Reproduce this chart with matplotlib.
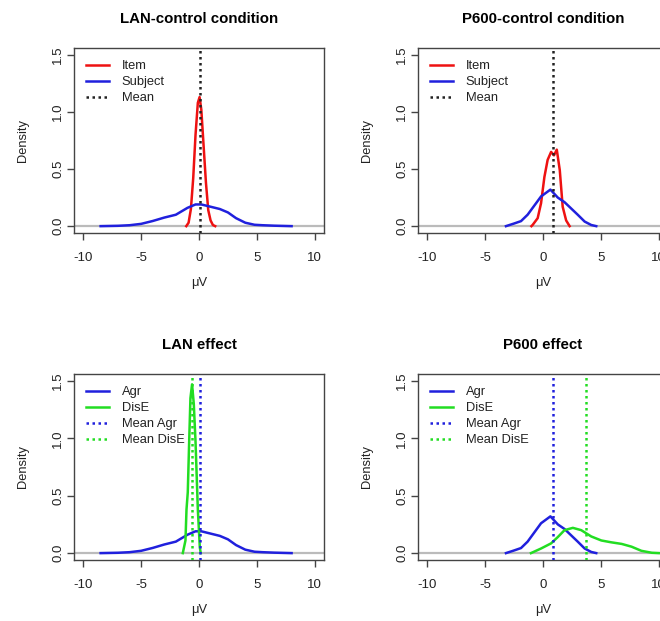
import matplotlib
matplotlib.use('Agg')
import matplotlib.pyplot as plt

plt.rcParams['font.family'] = ['Liberation Sans', 'DejaVu Sans']
plt.rcParams['axes.unicode_minus'] = False

RED = '#ee1111'
BLUE = '#2020dd'
GREEN = '#22dd22'
TEXT = '#222222'
SPINE = '#444444'
ZERO = '#bbbbbb'

# LAN-control condition
lan_item_x = [-1.1, -0.9, -0.7, -0.5, -0.3, -0.1, 0.05, 0.2, 0.4, 0.6, 0.8, 1.0, 1.2, 1.4]
lan_item_y = [0.0, 0.03, 0.15, 0.42, 0.8, 1.08, 1.13, 1.02, 0.7, 0.38, 0.14, 0.05, 0.01, 0.0]
lan_subj_x = [-8.5, -7, -6, -5, -4, -3, -2, -1, -0.3, 0.2, 1, 1.8, 2.5, 3.2, 4, 4.8, 5.5, 6.5, 8]
lan_subj_y = [0.0, 0.003, 0.008, 0.02, 0.045, 0.075, 0.1, 0.16, 0.19, 0.19, 0.17, 0.15,
              0.12, 0.07, 0.03, 0.012, 0.008, 0.004, 0.0]
lan_mean = 0.05

# P600-control condition
p6_item_x = [-1.0, -0.9, -0.46, -0.17, 0.12, 0.4, 0.7, 0.95, 1.19, 1.45, 1.7, 2.0, 2.3]
p6_item_y = [0.0, 0.01, 0.07, 0.2, 0.43, 0.58, 0.65, 0.62, 0.67, 0.49, 0.17, 0.05, 0.0]
p6_subj_x = [-3.2, -2.5, -1.9, -1.33, -0.75, -0.17, 0.64, 1.28, 1.86, 2.43, 3.0, 3.6, 4.17, 4.6]
p6_subj_y = [0.0, 0.023, 0.044, 0.1, 0.18, 0.26, 0.32, 0.25, 0.21, 0.155, 0.1, 0.04, 0.01, 0.0]
p6_mean = 0.87

# LAN effect
lan_agr_x = lan_subj_x
lan_agr_y = lan_subj_y
lan_dise_x = [-1.4, -1.17, -1.08, -0.97, -0.85, -0.74, -0.6, -0.45, -0.3, -0.1, 0.07, 0.15]
lan_dise_y = [0.0, 0.11, 0.38, 0.53, 0.97, 1.35, 1.47, 1.3, 0.97, 0.38, 0.05, 0.0]
lan_mean_agr = 0.07
lan_mean_dise = -0.6

# P600 effect
p6_agr_x = p6_subj_x
p6_agr_y = p6_subj_y
p6_dise_x = [-1.04, -0.17, 0.7, 1.28, 1.86, 2.58, 3.3, 4.17, 5.04, 5.9, 6.8, 7.65, 8.5, 9.4, 10.0]
p6_dise_y = [0.0, 0.04, 0.085, 0.14, 0.2, 0.22, 0.2, 0.145, 0.11, 0.094, 0.08, 0.056, 0.02, 0.003, 0.0]
p6_mean_agr = 0.87
p6_mean_dise = 3.68

XTICKS = [-10, -5, 0, 5, 10]
YTICKS = [0.0, 0.5, 1.0, 1.5]
DOT = (0, (1, 1.4))

W, H = 660, 621


def setup_ax(ax, title):
    ax.set_xlim(-10.8, 10.8)
    ax.set_ylim(-0.06, 1.56)
    ax.set_xticks(XTICKS)
    ax.set_yticks(YTICKS)
    ax.set_yticklabels(['%.1f' % v for v in YTICKS], rotation=90, va='center')
    ax.tick_params(direction='out', length=5, width=1, colors=SPINE,
                   labelcolor=TEXT, labelsize=9.5)
    ax.tick_params(axis='x', pad=9)
    ax.tick_params(axis='y', pad=2)
    for s in ax.spines.values():
        s.set_color(SPINE)
        s.set_linewidth(1)
    ax.set_title(title, fontsize=10.8, fontweight='bold', color='black', pad=18)
    ax.set_xlabel('\u03bcV', fontsize=9.3, color=TEXT, va='center')
    ax.set_ylabel('Density', fontsize=9.3, color=TEXT, va='center')
    ax.xaxis.set_label_coords(0.5, -50 / 185)
    ax.yaxis.set_label_coords(-51 / 250, 0.5)
    ax.axhline(0, color=ZERO, lw=1.6, zorder=1)


def legend(ax):
    ax.legend(loc='upper left', frameon=False, fontsize=9.3, labelspacing=0.3,
              handlelength=1.75, handletextpad=1.0, borderaxespad=0.55,
              labelcolor=TEXT)


fig = plt.figure(figsize=(W / 100, H / 100), dpi=100)
ax1 = fig.add_axes([74 / W, 1 - 233 / H, 250 / W, 185 / H])
ax2 = fig.add_axes([418 / W, 1 - 233 / H, 250 / W, 185 / H])
ax3 = fig.add_axes([74 / W, 1 - 560 / H, 250 / W, 186 / H])
ax4 = fig.add_axes([418 / W, 1 - 560 / H, 250 / W, 186 / H])

# top row
for ax, title, ix, iy, sx, sy, m in [
    (ax1, 'LAN-control condition', lan_item_x, lan_item_y, lan_subj_x, lan_subj_y, lan_mean),
    (ax2, 'P600-control condition', p6_item_x, p6_item_y, p6_subj_x, p6_subj_y, p6_mean),
]:
    setup_ax(ax, title)
    ax.plot(ix, iy, color=RED, lw=1.8, label='Item', zorder=3)
    ax.plot(sx, sy, color=BLUE, lw=1.8, label='Subject', zorder=3)
    ax.axvline(m, color='#222222', lw=1.8, linestyle=DOT, label='Mean', zorder=4)
    legend(ax)

# bottom row
for ax, title, ax_, ay, dx, dy, ma, md in [
    (ax3, 'LAN effect', lan_agr_x, lan_agr_y, lan_dise_x, lan_dise_y, lan_mean_agr, lan_mean_dise),
    (ax4, 'P600 effect', p6_agr_x, p6_agr_y, p6_dise_x, p6_dise_y, p6_mean_agr, p6_mean_dise),
]:
    setup_ax(ax, title)
    ax.plot(ax_, ay, color=BLUE, lw=1.8, label='Agr', zorder=3)
    ax.plot(dx, dy, color=GREEN, lw=1.8, label='DisE', zorder=3)
    ax.axvline(ma, color=BLUE, lw=1.8, linestyle=DOT, label='Mean Agr', zorder=4)
    ax.axvline(md, color=GREEN, lw=1.8, linestyle=DOT, label='Mean DisE', zorder=4)
    legend(ax)

fig.savefig('out.png', dpi=100, facecolor='white')
